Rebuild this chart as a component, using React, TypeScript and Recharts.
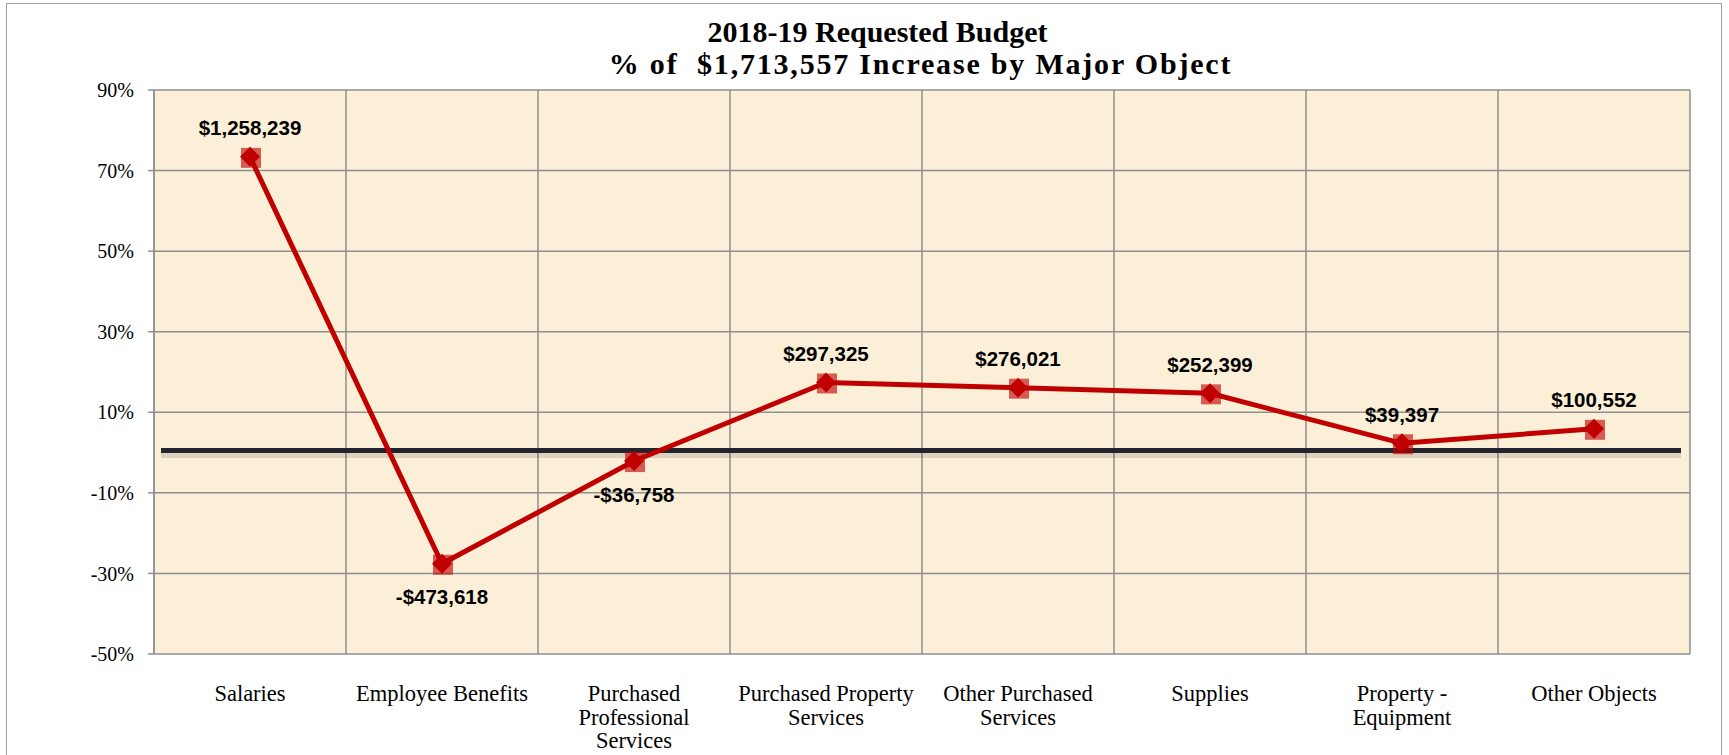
import { LineChart, Line, XAxis, YAxis, CartesianGrid, ReferenceLine, LabelList } from 'recharts';

// Values
const categories = [
  'Salaries',
  'Employee Benefits',
  'Purchased Professional Services',
  'Purchased Property Services',
  'Other Purchased Services',
  'Supplies',
  'Property - Equipment',
  'Other Objects',
];
const tickLabels = [
  ['Salaries'],
  ['Employee Benefits'],
  ['Purchased', 'Professional', 'Services'],
  ['Purchased Property', 'Services'],
  ['Other Purchased', 'Services'],
  ['Supplies'],
  ['Property -', 'Equipment'],
  ['Other Objects'],
];
const pctOfIncrease = [73.4, -27.6, -2.1, 17.4, 16.1, 14.7, 2.3, 5.9];
const dollarLabels = ['$1,258,239', '-$473,618', '-$36,758', '$297,325', '$276,021', '$252,399', '$39,397', '$100,552'];
const yTicks = [-50, -30, -10, 10, 30, 50, 70, 90];

const chartData = categories.map((name, i) => ({
  name,
  pct: pctOfIncrease[i],
  amount: dollarLabels[i],
}));

const RED = '#c00000';
const SERIF = '"Liberation Serif", "Times New Roman", serif';
const SANS = '"Liberation Sans", Arial, sans-serif';

function DiamondDot(props: any) {
  const { cx, cy, index } = props;
  if (cx == null || cy == null) return null;
  const r = 10;
  return (
    <g key={`dot-${index}`}>
      <rect x={cx - 9} y={cy - 9} width={20} height={20} fill={RED} fillOpacity={0.62} />
      <polygon points={`${cx},${cy - r} ${cx + r},${cy} ${cx},${cy + r} ${cx - r},${cy}`} fill={RED} />
    </g>
  );
}

function AmountLabel(props: any) {
  const { x, y, value, index } = props;
  if (x == null || y == null) return null;
  const below = pctOfIncrease[index] < 0;
  return (
    <text
      x={x}
      y={below ? y + 33 : y - 29}
      textAnchor="middle"
      dominantBaseline="central"
      fontFamily={SANS}
      fontWeight="bold"
      fontSize={20.5}
      fill="#000"
    >
      {value}
    </text>
  );
}

function CategoryTick(props: any) {
  const { x, y, payload } = props;
  const lines = tickLabels[payload.index] || [payload.value];
  return (
    <text x={x} y={y} textAnchor="middle" fontFamily={SERIF} fontSize={22.5} fill="#000">
      {lines.map((line, i) => (
        <tspan key={i} x={x} dy={i === 0 ? 47 : 23.5}>
          {line}
        </tspan>
      ))}
    </text>
  );
}

function ZeroLine(props: any) {
  const { x1, x2, y1 } = props;
  return (
    <g>
      <line x1={x1 + 7} x2={x2 - 9} y1={y1 + 3} y2={y1 + 3} stroke="#000" strokeOpacity={0.12} strokeWidth={5} />
      <line x1={x1 + 7} x2={x2 - 9} y1={y1 - 2} y2={y1 - 2} stroke="#23232f" strokeWidth={5} />
    </g>
  );
}

export default function App() {
  return (
    <div style={{ position: 'absolute', left: 0, top: 0, width: 1729, height: 755, overflow: 'hidden', background: '#fff' }}>
      <div
        style={{
          position: 'absolute',
          left: 6,
          top: 3,
          width: 1716,
          height: 800,
          border: '1.5px solid #a3a3a3',
          boxSizing: 'border-box',
        }}
      />
      <div
        style={{
          position: 'absolute',
          left: 0,
          top: 16,
          width: 1729,
          textAlign: 'center',
          fontFamily: SERIF,
          fontWeight: 'bold',
          fontSize: 30,
          lineHeight: '32px',
          color: '#000',
        }}
      >
        <div style={{ position: 'relative', left: 13 }}>2018-19 Requested Budget</div>
        <div style={{ whiteSpace: 'pre', position: 'relative', left: 56, letterSpacing: 1.8 }}>
          {'% of  $1,713,557 Increase by Major Object'}
        </div>
      </div>
      <div style={{ position: 'absolute', left: 0, top: 0 }}>
        <LineChart width={1729} height={755} data={chartData} margin={{ top: 90, right: 39, bottom: 41, left: 0 }}>
          <CartesianGrid
            stroke="#8f8f8f"
            strokeWidth={1.5}
            fill="#fcefd7"
            fillOpacity={1}
            verticalCoordinatesGenerator={({ offset }: any) =>
              Array.from({ length: categories.length + 1 }, (_, i) => offset.left + (i * offset.width) / categories.length)
            }
          />
          <XAxis
            dataKey="name"
            scale="band"
            axisLine={false}
            tickLine={false}
            tickSize={0}
            tickMargin={0}
            interval={0}
            height={60}
            tick={<CategoryTick />}
          />
          <YAxis
            domain={[-50, 90]}
            ticks={yTicks}
            width={154}
            tickSize={6}
            tickMargin={14}
            axisLine={{ stroke: '#8f8f8f', strokeWidth: 1.5 }}
            tickLine={{ stroke: '#8f8f8f', strokeWidth: 1.5 }}
            tickFormatter={(v: number) => `${v}%`}
            tick={{ fontFamily: SERIF, fontSize: 20, fill: '#000' }}
          />
          <ReferenceLine y={0} shape={<ZeroLine />} />
          <Line
            type="linear"
            dataKey="pct"
            stroke={RED}
            strokeWidth={5}
            dot={<DiamondDot />}
            activeDot={false}
            isAnimationActive={false}
          >
            <LabelList dataKey="amount" content={<AmountLabel />} />
          </Line>
        </LineChart>
      </div>
    </div>
  );
}
